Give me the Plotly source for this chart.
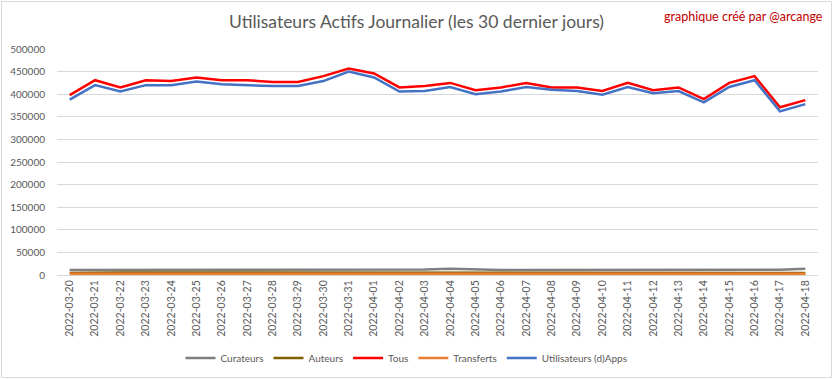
import plotly.graph_objects as go

dates = ["2022-03-20","2022-03-21","2022-03-22","2022-03-23","2022-03-24","2022-03-25",
         "2022-03-26","2022-03-27","2022-03-28","2022-03-29","2022-03-30","2022-03-31",
         "2022-04-01","2022-04-02","2022-04-03","2022-04-04","2022-04-05","2022-04-06",
         "2022-04-07","2022-04-08","2022-04-09","2022-04-10","2022-04-11","2022-04-12",
         "2022-04-13","2022-04-14","2022-04-15","2022-04-16","2022-04-17","2022-04-18"]

curateurs = [11000,11000,11000,11000,11000,11000,11000,11000,11000,11000,11000,11000,
             11000,11000,12000,14000,12000,11000,11000,11000,11000,11000,11000,11000,
             11000,11000,11000,11000,11500,14000]
auteurs = [4500,5500,5500,5500,5500,4500,4500,4500,5500,5500,5500,5500,
           5000,4500,4500,5000,5500,5500,5500,4500,4500,4500,5000,5500,
           5500,4500,4500,4500,4500,4500]
tous = [398000,431000,415000,431000,429000,437000,431000,431000,427000,427000,440000,457000,
        446000,415000,418000,425000,409000,415000,425000,415000,415000,407000,425000,409000,
        415000,389000,425000,440000,371000,387000]
transferts = [3000,3000,3000,3000,3000,3000,3000,3000,3000,3000,3000,3000,
              3000,3000,3000,3000,3000,3000,3000,3000,3000,3000,3000,3000,
              3000,3000,3000,3000,3000,3000]
apps = [388000,420000,406000,420000,420000,428000,422000,420000,418000,418000,429000,450000,
        437000,406000,407000,416000,400000,406000,416000,410000,407000,399000,416000,402000,
        407000,382000,416000,431000,362000,378000]

series = [
    ("Curateurs", curateurs, "#7F7F7F", 2.5),
    ("Auteurs", auteurs, "#7F6000", 2.5),
    ("Tous", tous, "#FF0000", 2.5),
    ("Transferts", transferts, "#ED7D31", 2.5),
    ("Utilisateurs (d)Apps", apps, "#4472C4", 2.5),
]

fig = go.Figure()
for name, vals, color, w in series:
    fig.add_trace(go.Scatter(x=dates, y=vals, name=name, mode="lines",
                             line=dict(color=color, width=w)))

W, H = 833, 379
ml, mr, mt, mb = 57, 15, 49, 104
pw, ph = W - ml - mr, H - mt - mb
FONT = "Lato, Open Sans, sans-serif"

fig.update_layout(
    width=W, height=H,
    margin=dict(l=ml, r=mr, t=mt, b=mb, pad=0, autoexpand=False),
    paper_bgcolor="white", plot_bgcolor="white",
    font=dict(family=FONT, size=10, color="#595959"),
    title=dict(text="Utilisateurs Actifs Journalier (les 30 dernier jours)",
               x=0.5, xref="container", xanchor="center", y=1 - 22 / H, yanchor="middle",
               font=dict(size=17.5, color="#595959", family=FONT)),
    showlegend=True,
    legend=dict(orientation="h", x=406.5 / W, xanchor="center", xref="container",
                y=1 - 358 / H, yref="container", yanchor="middle",
                font=dict(size=10, color="#595959"), itemwidth=30,
                bgcolor="rgba(0,0,0,0)"),
    xaxis=dict(type="category", range=[-0.5, len(dates) - 0.5], tickangle=-90,
               showgrid=False, showline=True, linecolor="#D9D9D9", linewidth=1,
               ticks="", tickfont=dict(size=10.5, color="#595959"), fixedrange=True,
               automargin=False),
    yaxis=dict(range=[0, 500000], dtick=50000, tickformat="d",
               showgrid=True, gridcolor="#D9D9D9", gridwidth=1, zeroline=False,
               showline=False, ticks="", ticklabelstandoff=11,
               tickfont=dict(size=10, color="#595959"), fixedrange=True,
               automargin=False),
    annotations=[dict(text="graphique créé par @arcange", xref="paper", yref="paper",
                      x=(825 - ml) / pw, y=1 + (mt - 16) / ph, xanchor="right", yanchor="middle",
                      showarrow=False, font=dict(size=12.5, color="#C00000", family=FONT))],
    shapes=[dict(type="rect", xref="paper", yref="paper",
                 x0=-(ml - 1.5) / pw, x1=1 + (mr - 1.5) / pw,
                 y0=-(mb - 1.5) / ph, y1=1 + (mt - 1.5) / ph,
                 line=dict(color="#D9D9D9", width=1), layer="below")],
)

fig.write_html("out.html", config={"displayModeBar": False},
               post_script="document.body.style.margin='0';document.body.style.padding='0';")
